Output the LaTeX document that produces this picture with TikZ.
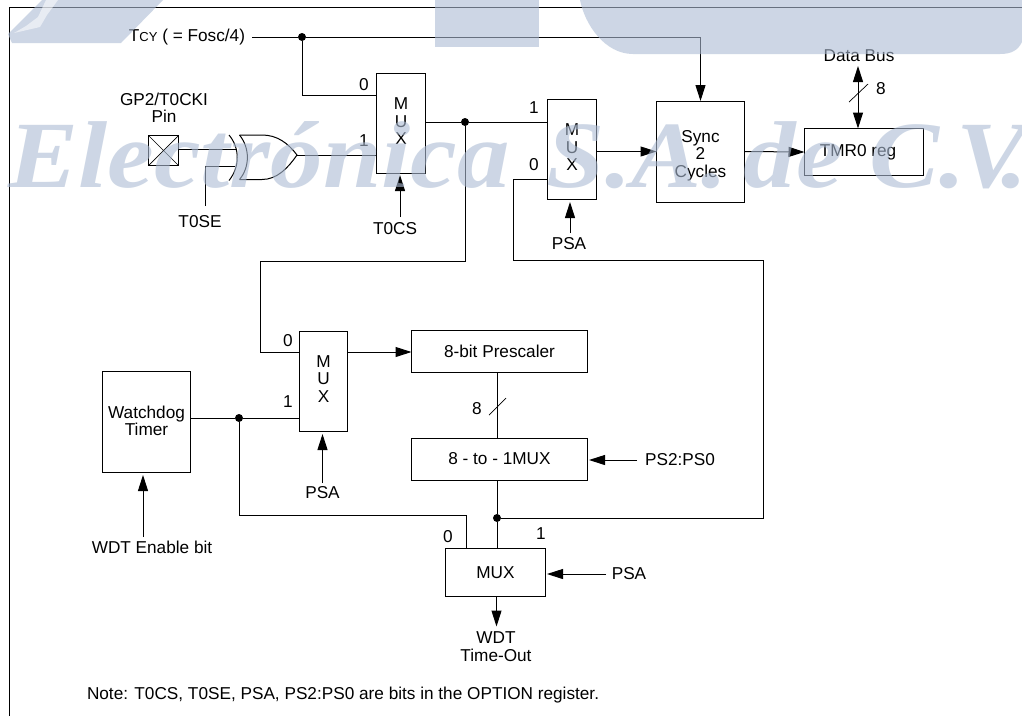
\documentclass[tikz,border=0pt]{standalone}
\usepackage{fontspec}
\setmainfont{Liberation Sans}
\newfontfamily\wmfont{Liberation Serif}
\usetikzlibrary{arrows.meta}
\definecolor{wmcol}{RGB}{172,188,212}
\tikzset{
  x=1pt,y=-1pt,
  wire/.style={line width=1pt,draw=black},
  arr/.style={wire,-{Triangle[length=16pt,width=10pt]}},
  barr/.style={wire,{Triangle[length=16pt,width=10pt]}-{Triangle[length=16pt,width=10pt]}},
  box/.style={draw=black,line width=1pt,inner sep=0pt,outer sep=0pt,align=center,font=\fontsize{17.2}{17.5}\selectfont},
  lab/.style={inner sep=0pt,outer sep=0pt,align=center,font=\fontsize{17.2}{17.5}\selectfont},
  dotj/.style={circle,fill=black,inner sep=0pt,minimum size=8pt},
  wm/.style={fill=wmcol,opacity=0.6,draw=none},
}
\begin{document}
\begin{tikzpicture}
\useasboundingbox[fill=white] (0,0) rectangle (1022,716);
% frame
\coordinate (fa) at (9.5,716);
\coordinate (fb) at (9.5,7.5);
\coordinate (fc) at (1022,7.5);
\draw[wire] (fa) -- (fb) -- (fc);
% boxes
\node[box,minimum width=49pt,minimum height=100pt] (mux1) at (401,123) {M\\U\\X\rule[-3pt]{0pt}{0pt}};
\node[box,minimum width=49pt,minimum height=100pt] (mux2) at (572,149) {M\\U\\X\rule[-3pt]{0pt}{0pt}};
\node[box,minimum width=88pt,minimum height=101pt] (sync) at (700.5,151.5) {\rule{0pt}{20pt}Sync\\2\\Cycles};
\node[box,minimum width=119pt,minimum height=47pt] (tmr) at (864,152) {\hspace*{-12pt}TMR0 reg};
\node[box,minimum width=48pt,minimum height=100pt] (mux3) at (323.5,381) {M\\U\\X\rule[-4pt]{0pt}{0pt}};
\node[box,minimum width=88pt,minimum height=101pt] (wdog) at (146.5,422) {Watchdog\\Timer\rule[-2pt]{0pt}{0pt}};
\node[box,minimum width=176pt,minimum height=42pt] (pre) at (499.5,351) {8-bit Prescaler};
\node[box,minimum width=176pt,minimum height=42pt] (sel) at (499.5,459) {8 - to - 1MUX};
\node[box,minimum width=100pt,minimum height=48pt] (mux4) at (495.5,572.5) {MUX};
\node[draw=black,line width=1pt,inner sep=0pt,outer sep=0pt,minimum width=30pt,minimum height=30pt] (pin) at (163.5,150.5) {};
\draw[line width=0.7pt] (pin.north west) -- (pin.south east) (pin.north east) -- (pin.south west);
% labels
\node[lab] (tcy) at (187,37) {T{\fontsize{13}{13}\selectfont CY} ( = Fosc/4)};
\node[lab] (gp2) at (164,107.5) {GP2/T0CKI\\[-0.5pt]Pin};
\node[lab] (t0se) at (200,222) {T0SE};
\node[lab] (t0cs) at (395,229) {T0CS};
\node[lab] (psa1) at (569,244) {PSA};
\node[lab] (dbus) at (859,55.5) {Data Bus};
\node[lab] (eight1) at (881,89) {8};
\node[lab] (psa2) at (322.5,493) {PSA};
\node[lab] (wen) at (152,547) {WDT Enable bit};
\node[lab] (ps20) at (680,460) {PS2:PS0};
\node[lab] (eight2) at (477,409) {8};
\node[lab] (psa3) at (629,574) {PSA};
\node[lab] (tout) at (496,646.5) {WDT\\Time-Out};
\node[lab,anchor=west] (note) at (87,695) {Note: T0CS, T0SE, PSA, PS2:PS0 are bits in the OPTION register.};
\node[lab] (l10) at (364,85) {0};
\node[lab] (l11) at (364,141) {1};
\node[lab] (l21) at (534,108) {1};
\node[lab] (l20) at (534,165) {0};
\node[lab] (l30) at (288,341) {0};
\node[lab] (l31) at (288,402) {1};
\node[lab] (l40) at (448,537) {0};
\node[lab] (l41) at (541,534) {1};
% junctions
\node[dotj] (j1) at (302,37) {};
\node[dotj] (j2) at (465,122) {};
\node[dotj] (j3) at (239,418) {};
\node[dotj] (j4) at (497,518) {};
% ports
\coordinate (m1i0) at (mux1.west |- 0,95);
\coordinate (m1i1) at (mux1.west |- 0,155);
\coordinate (m2i1) at (mux2.west |- j2);
\coordinate (m2i0) at (mux2.west |- 0,179);
\coordinate (m3i0) at (mux3.west |- 0,352);
\coordinate (m3i1) at (mux3.west |- j3);
% XOR gate
\coordinate (xtip) at (297,155);
\coordinate (xa) at (229,135);
\coordinate (xb) at (229,180.5);
\coordinate (xc) at (239.5,135);
\coordinate (xd) at (239.5,179.5);
\coordinate (xi0) at (237,149.5);
\coordinate (xi1) at (235,166.5);
\draw[wire] (xa) .. controls (240,148) and (240,167) .. (xb);
\draw[wire] (xc) .. controls (250,148) and (250,167) .. (xd);
\draw[wire] (xc) -- (262,135) .. controls (277,135) and (288,143) .. (xtip) .. controls (288,168) and (277,179.5) .. (262,179.5) -- (xd);
% connectors
\draw[wire] (tcy.east) ++(7,0) -- (j1);
\draw[arr] (j1) -| (sync.north);
\draw[wire] (j1) |- (m1i0);
\draw[wire] (xtip) -- (m1i1);
\draw[wire] (pin.east |- xi0) -- (xi0);
\coordinate (tse) at (205,206);
\draw[wire] (tse) |- (xi1);
\draw[wire] (mux1.east |- j2) -- (j2) -- (m2i1);
\draw[wire] (j2) |- (260,261) |- (m3i0);
\draw[wire] (m2i0) -| (513,260) -| (763,518) -- (j4);
\draw[arr] (mux2.east |- sync.center) -- (sync.west);
\draw[arr] (sync.east) -- (tmr.west);
\coordinate (dbt) at (858,66);
\draw[barr] (dbt) -- (dbt |- tmr.north);
\coordinate (sl1a) at (849,102);
\coordinate (sl1b) at (868,84);
\draw[line width=0.7pt] (sl1a) -- (sl1b);
\coordinate (c0) at (400,217);
\draw[arr] (c0) -- ++(0,-42);
\coordinate (c1) at (570,233);
\draw[arr] (c1) -- ++(0,-31);
\draw[arr] (mux3.east |- m3i0) -- (pre.west |- m3i0);
\draw[wire] (j3) -- (m3i1);
\draw[wire] (wdog.east |- j3) -- (j3);
\coordinate (c2) at (322.5,483);
\draw[arr] (c2) -- ++(0,-49);
\coordinate (c3) at (143,537);
\draw[arr] (c3) -- ++(0,-62);
\draw[wire] (j3) |- (466.5,515) -- (466.5,548.5);
\draw[wire] (pre.south -| j4) -- (sel.north -| j4);
\coordinate (sl2a) at (489,415);
\coordinate (sl2b) at (506,398);
\draw[line width=0.7pt] (sl2a) -- (sl2b);
\draw[wire] (sel.south -| j4) -- (j4) -- (mux4.north -| j4);
\coordinate (c4) at (637,460);
\draw[arr] (c4) -- ++(-48,0);
\coordinate (c5) at (606,574);
\draw[arr] (c5) -- ++(-59,0);
\draw[arr] (mux4.south -| 496.5,0) -- ++(0,30);
% watermark
\begin{scope}
\fill[wm] (8,34) -- (42,0) -- (163,0) -- (121,43) -- (12,43) -- cycle;
\fill[white,opacity=0.55] (14,33) -- (40,27) -- (47,15) -- (58,0) -- (46,0) -- (38,17) -- (26,26) -- cycle;
\fill[wm] (435,0) rectangle (539,47);
\fill[wm] (580,0) .. controls (585,25) and (605,54) .. (633,54) -- (1000,54) .. controls (1012,54) and (1018,50) .. (1022,42) -- (1022,0) -- cycle;
\node[anchor=base west,inner sep=0pt,opacity=0.6,text=wmcol,font=\fontsize{101}{101}\wmfont\bfseries\itshape] (mark) at (8,187) {\scalebox{1.04}[0.94]{Electrónica\kern0.1em{} S.A.\kern-0.1em{} de C.\kern-0.08em V\kern-0.24em.}};
\end{scope}
\end{tikzpicture}
\end{document}
